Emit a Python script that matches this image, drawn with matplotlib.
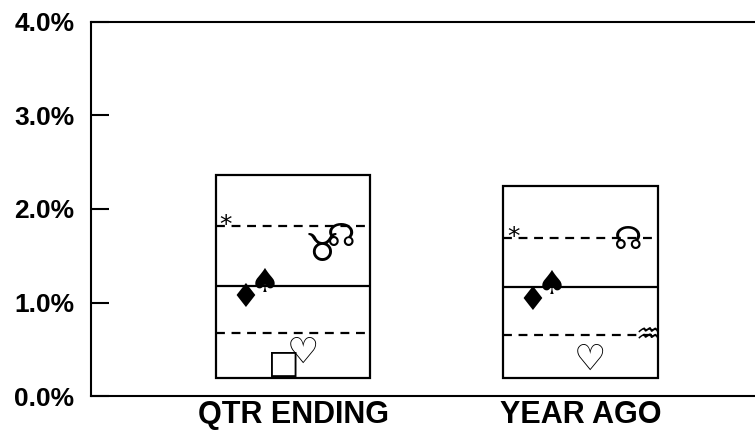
import matplotlib.pyplot as plt
import numpy as np

categories = ['QTR ENDING', 'YEAR AGO']
box_low = [0.19, 0.19]
box_high = [2.36, 2.25]
upper_q = [1.82, 1.69]
median = [1.18, 1.17]
lower_q = [0.67, 0.65]

# symbol series, one value per category (None = not shown)
symbols = ['*', '\u2666', '\u2660', '\u25a1', '\u2661', '\u2649', '\u260a', '\u2652']
series_vals = [
    [1.83, 1.70],
    [1.05, 1.02],
    [1.21, 1.19],
    [0.35, None],
    [0.46, 0.39],
    [1.56, None],
    [1.70, 1.66],
    [None, 0.65],
]
yticks = [0, 1, 2, 3, 4]
ytick_labels = ['0.0%', '1.0%', '2.0%', '3.0%', '4.0%']

plt.rcParams['font.family'] = ['Liberation Sans', 'DejaVu Sans']

fig = plt.figure(figsize=(7.55, 4.3), dpi=100)
ax = fig.add_axes([0.1205, 0.079, 0.8795, 0.870])

x = np.arange(len(categories))
w = 0.536
ax.bar(x, np.array(box_high) - np.array(box_low), bottom=box_low, width=w,
       fill=False, edgecolor='black', linewidth=1.6, zorder=2)
ax.hlines(median, x - w / 2, x + w / 2, colors='black', linewidth=1.6, zorder=3)
ax.hlines(upper_q, x - w / 2, x + w / 2, colors='black', linewidth=1.6,
          linestyles=(0, (4, 3)), zorder=3)
ax.hlines(lower_q, x - w / 2, x + w / 2, colors='black', linewidth=1.6,
          linestyles=(0, (4, 3)), zorder=3)

sizes = [18, 24, 24, 24, 26, 28, 23, 20]
for i, (sym, vals) in enumerate(zip(symbols, series_vals)):
    off = (i - 3.5) * 0.067
    for j, v in enumerate(vals):
        if v is None:
            continue
        ax.text(x[j] + off, v, sym, ha='center', va='center', fontsize=sizes[i],
                family=['DejaVu Sans'], zorder=4)

ax.set_xlim(-0.703, 1.607)
ax.set_ylim(0, 4)
ax.set_yticks(yticks)
ax.set_yticklabels(ytick_labels, fontsize=19, fontweight='bold')
ax.set_xticks(x)
ax.set_xticklabels(categories, fontsize=22, fontweight='bold')
ax.tick_params(axis='y', direction='in', length=13, width=1.5, pad=12)
ax.tick_params(axis='x', length=0, pad=3)
ax.spines['right'].set_visible(False)
for s in ['left', 'top', 'bottom']:
    ax.spines[s].set_linewidth(1.5)

fig.savefig('out.png', dpi=100)
